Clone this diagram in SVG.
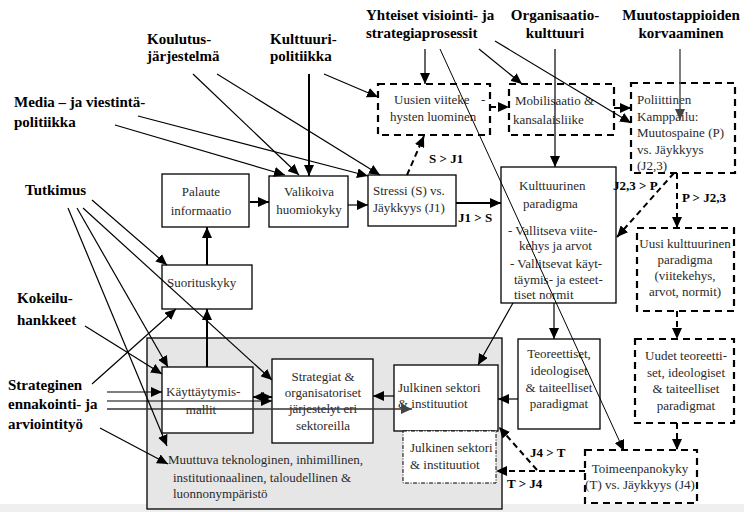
<svg xmlns="http://www.w3.org/2000/svg" width="744" height="512" viewBox="0 0 744 512">
<style>
.box{fill:#fff;stroke:#000;stroke-width:1.3}
.dbox{fill:#fff;stroke:#000;stroke-width:2.2;stroke-dasharray:7 5}
.ddbox{fill:#fff;stroke:#000;stroke-width:1;stroke-dasharray:4 1.5 1 1.5}
.t{font-family:'Liberation Serif','Tinos','DejaVu Serif',serif;font-size:13px;fill:#2a2a2a}
.b{font-family:'Liberation Serif','Tinos','DejaVu Serif',serif;font-size:15px;font-weight:bold;fill:#000}
.l{font-family:'Liberation Serif','Tinos','DejaVu Serif',serif;font-size:13px;font-weight:bold;fill:#000}
.m{text-anchor:middle}
.c{fill:none;stroke:#000;stroke-width:1.2;marker-end:url(#ah)}
.ck{fill:none;stroke:#000;stroke-width:2;marker-end:url(#ah)}
.cd{fill:none;stroke:#000;stroke-width:2;stroke-dasharray:6 4;marker-end:url(#ah)}
.cg{fill:none;stroke:#555;stroke-width:1.5;marker-end:url(#ahg)}
</style>
<defs>
<marker id="ah" markerUnits="userSpaceOnUse" markerWidth="11" markerHeight="10" refX="11" refY="5" orient="auto-start-reverse"><path d="M0,0 L11,5 L0,10 z" fill="#000"/></marker>
<marker id="ahg" markerUnits="userSpaceOnUse" markerWidth="11" markerHeight="10" refX="11" refY="5" orient="auto"><path d="M0,0 L11,5 L0,10 z" fill="#444"/></marker>
</defs>
<rect x="0" y="0" width="744" height="512" fill="#fff"/>
<rect x="0" y="504" width="744" height="8" fill="#efefef"/>

<g id="environment">
<rect x="147" y="338" width="355" height="171" fill="#e6e6e6" stroke="#000" stroke-width="1.3"/>
<text class="t" x="168" y="464">Muuttuva teknologinen, inhimillinen,</text>
<text class="t" x="173" y="482">institutionaalinen, taloudellinen &amp;</text>
<text class="t" x="173" y="498">luonnonympäristö</text>
</g>

<g id="labels">
<text class="b" x="147" y="44">Koulutus-</text>
<text class="b" x="147" y="61">järjestelmä</text>
<text class="b" x="270" y="44">Kulttuuri-</text>
<text class="b" x="270" y="61">politiikka</text>
<text class="b" x="14" y="107">Media – ja viestintä-</text>
<text class="b" x="14" y="127">politiikka</text>
<text class="b" x="25" y="195">Tutkimus</text>
<text class="b" x="17" y="303">Kokeilu-</text>
<text class="b" x="17" y="325">hankkeet</text>
<text class="b" x="8" y="390">Strateginen</text>
<text class="b" x="8" y="409">ennakointi- ja</text>
<text class="b" x="8" y="429">arviointityö</text>
<text class="b" x="366" y="20">Yhteiset visiointi- ja</text>
<text class="b" x="366" y="38">strategiaprosessit</text>
<text class="b m" x="555" y="20">Organisaatio-</text>
<text class="b m" x="555" y="38">kulttuuri</text>
<text class="b m" x="681" y="20">Muutostappioiden</text>
<text class="b m" x="681" y="38">korvaaminen</text>
</g>

<g id="palaute">
<rect class="box" x="162" y="174" width="87" height="53"/>
<text class="t m" x="201" y="196">Palaute</text>
<text class="t m" x="201" y="215">informaatio</text>
</g>
<g id="valikoiva">
<rect class="box" x="269" y="176" width="79" height="51"/>
<text class="t m" x="309" y="196">Valikoiva</text>
<text class="t m" x="309" y="214">huomiokyky</text>
</g>
<g id="stressi">
<rect class="box" x="368" y="175" width="88" height="51"/>
<text class="t" x="373" y="195">Stressi (S) vs.</text>
<text class="t" x="373" y="212">Jäykkyys (J1)</text>
</g>
<g id="uusien">
<rect class="dbox" x="378" y="84" width="112" height="51"/>
<text class="t" x="394" y="104">Uusien viiteke<tspan x="481">-</tspan></text>
<text class="t" x="390" y="121">hysten luominen</text>
</g>
<g id="mobilisaatio">
<rect class="dbox" x="509" y="84" width="105" height="51"/>
<text class="t" x="515" y="105">Mobilisaatio &amp;</text>
<text class="t" x="513" y="124">kansalaisliike</text>
</g>
<g id="poliittinen">
<rect class="dbox" x="631" y="83" width="104" height="90"/>
<text class="t" x="637" y="104">Poliittinen</text>
<text class="t" x="637" y="121">Kamppailu:</text>
<text class="t" x="637" y="137">Muutospaine (P)</text>
<text class="t" x="637" y="154">vs. Jäykkyys</text>
<text class="t" x="637" y="170">(J2,3)</text>
</g>
<g id="kulttuurinen">
<rect class="box" x="501" y="167" width="115" height="136"/>
<text class="t" x="519" y="190">Kulttuurinen</text>
<text class="t" x="523" y="208">paradigma</text>
<text class="t" x="508" y="235">- Vallitseva viite-</text>
<text class="t" x="519" y="250">kehys ja arvot</text>
<text class="t" x="510" y="268">- Vallitsevat käyt-</text>
<text class="t" x="514" y="284">täymis- ja esteet-</text>
<text class="t" x="514" y="299">tiset normit</text>
</g>
<g id="uusi-paradigma">
<rect class="dbox" x="637" y="228" width="97" height="83"/>
<text class="t m" x="685" y="248">Uusi kulttuurinen</text>
<text class="t m" x="685" y="264">paradigma</text>
<text class="t m" x="685" y="280">(viitekehys,</text>
<text class="t m" x="685" y="296">arvot, normit)</text>
</g>
<g id="uudet">
<rect class="dbox" x="635" y="339" width="99" height="84"/>
<text class="t m" x="686" y="360">Uudet teoreetti-</text>
<text class="t m" x="686" y="377">set, ideologiset</text>
<text class="t m" x="686" y="393">&amp; taiteelliset</text>
<text class="t m" x="686" y="410">paradigmat</text>
</g>
<g id="toimeenpanokyky">
<rect class="dbox" x="585" y="450" width="112" height="53"/>
<text class="t m" x="640" y="473">Toimeenpanokyky</text>
<text class="t m" x="640" y="489">(T) vs. Jäykkyys (J4)</text>
</g>
<g id="teoreettiset">
<rect class="box" x="518" y="339" width="82" height="90"/>
<text class="t m" x="559" y="358">Teoreettiset,</text>
<text class="t m" x="559" y="375">ideologiset</text>
<text class="t m" x="559" y="392">&amp; taiteelliset</text>
<text class="t m" x="559" y="408">paradigmat</text>
</g>
<g id="julkinen">
<rect class="box" x="394" y="365" width="104" height="66"/>
<text class="t" x="398" y="392">Julkinen sektori</text>
<text class="t" x="398" y="408">&amp; instituutiot</text>
</g>
<g id="julkinen-2">
<rect class="ddbox" x="403" y="431" width="93" height="52"/>
<text class="t" x="410" y="452">Julkinen sektori</text>
<text class="t" x="410" y="469">&amp; instituutiot</text>
</g>
<g id="strategiat">
<rect class="box" x="272" y="359" width="101" height="84"/>
<text class="t m" x="323" y="381">Strategiat &amp;</text>
<text class="t m" x="323" y="397">organisatoriset</text>
<text class="t m" x="323" y="413">järjestelyt eri</text>
<text class="t m" x="323" y="430">sektoreilla</text>
</g>
<g id="kayttaytymismallit">
<rect class="box" x="162" y="367" width="91" height="66"/>
<text class="t" x="166" y="396">Käyttäytymis-</text>
<text class="t m" x="201" y="414">mallit</text>
</g>
<g id="suorituskyky">
<rect class="box" x="162" y="265" width="90" height="44"/>
<text class="t" x="167" y="287">Suorituskyky</text>
</g>

<g id="connectors">
<line class="c" x1="193" y1="74" x2="299" y2="175"/>
<line class="c" x1="217" y1="74" x2="380" y2="175"/>
<line class="ck" x1="309" y1="74" x2="309" y2="176"/>
<line class="c" x1="324" y1="74" x2="378" y2="97"/>
<line class="c" x1="115" y1="125" x2="285" y2="175"/>
<line class="c" x1="138" y1="116" x2="368" y2="176"/>
<line class="ck" x1="250" y1="202" x2="269" y2="202"/>
<line class="c" x1="348" y1="205" x2="368" y2="205"/>
<line class="ck" x1="456" y1="203" x2="501" y2="203"/>
<line class="cd" x1="407" y1="175" x2="424" y2="136"/>
<line class="c" x1="425" y1="49" x2="425" y2="84"/>
<line class="c" x1="479" y1="49" x2="522" y2="84"/>
<line class="c" x1="495" y1="41" x2="631" y2="123"/>
<line class="c" x1="440" y1="49" x2="624" y2="451" style="stroke-width:1"/>
<line class="c" x1="555" y1="49" x2="555" y2="167"/>
<line class="cg" x1="680" y1="49" x2="680" y2="120"/>
<line class="cd" x1="490" y1="107" x2="509" y2="107"/>
<line class="cd" x1="614" y1="108" x2="631" y2="108"/>
<line class="cd" x1="677" y1="173" x2="677" y2="228"/>
<line class="cd" x1="674" y1="173" x2="617" y2="237"/>
<line class="cd" x1="677" y1="311" x2="677" y2="339"/>
<line class="cd" x1="677" y1="423" x2="677" y2="450"/>
<line class="c" x1="554" y1="303" x2="554" y2="339"/>
<line class="c" x1="513" y1="303" x2="478" y2="365"/>
<line class="c" x1="518" y1="399" x2="498" y2="399"/>
<line class="c" x1="394" y1="396" x2="373" y2="396"/>
<line class="ck" x1="253" y1="397" x2="272" y2="397" marker-start="url(#ah)"/>
<line class="c" x1="107" y1="392" x2="162" y2="392"/>
<line class="c" x1="107" y1="401" x2="272" y2="401"/>
<line class="cg" x1="107" y1="409" x2="412" y2="409" style="stroke:#333"/>
<line class="c" x1="92" y1="384" x2="176" y2="309"/>
<line class="c" x1="100" y1="428" x2="168" y2="464"/>
<line class="c" x1="85" y1="326" x2="162" y2="374"/>
<line class="c" x1="92" y1="200" x2="167" y2="265"/>
<line class="c" x1="83" y1="208" x2="272" y2="380"/>
<line class="c" x1="77" y1="208" x2="168" y2="367"/>
<line class="c" x1="68" y1="208" x2="167" y2="446"/>
<line class="ck" x1="207" y1="367" x2="207" y2="309"/>
<line class="ck" x1="207" y1="265" x2="207" y2="227"/>
<line class="cd" x1="585" y1="471" x2="496" y2="471"/>
<line class="cd" x1="537" y1="470" x2="499" y2="427"/>
<text class="l" x="429" y="163">S &gt; J1</text>
<text class="l" x="458" y="222">J1 &gt; S</text>
<text class="l" x="613" y="190">J2,3 &gt; P</text>
<text class="l" x="682" y="202">P &gt; J2,3</text>
<text class="l" x="530" y="457">J4 &gt; T</text>
<text class="l" x="507" y="488">T &gt; J4</text>
</g>
</svg>
